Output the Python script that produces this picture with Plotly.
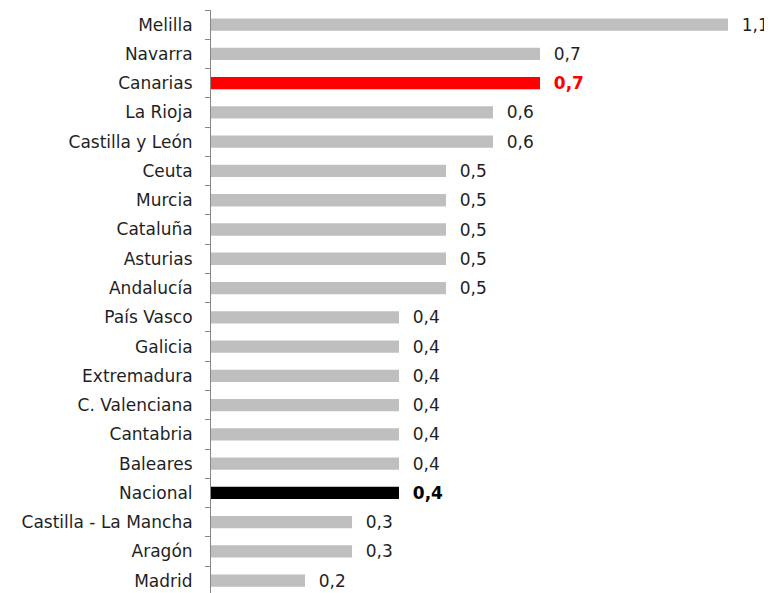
import plotly.graph_objects as go

regions = ["Melilla", "Navarra", "Canarias", "La Rioja", "Castilla y León", "Ceuta",
           "Murcia", "Cataluña", "Asturias", "Andalucía", "País Vasco", "Galicia",
           "Extremadura", "C. Valenciana", "Cantabria", "Baleares", "Nacional",
           "Castilla - La Mancha", "Aragón", "Madrid"]
values = [1.1, 0.7, 0.7, 0.6, 0.6, 0.5, 0.5, 0.5, 0.5, 0.5, 0.4, 0.4, 0.4, 0.4,
          0.4, 0.4, 0.4, 0.3, 0.3, 0.2]

FONT = "DejaVu Sans"
colors = []
text_colors = []
texts = []
for r, v in zip(regions, values):
    s = f"{v:.1f}".replace(".", ",")
    if r == "Canarias":
        colors.append("#FF0000"); text_colors.append("#FF0000"); texts.append(f"<b>{s}</b>")
    elif r == "Nacional":
        colors.append("#000000"); text_colors.append("#000000"); texts.append(f"<b>{s}</b>")
    else:
        colors.append("#BFBFBF"); text_colors.append("#1F1F1F"); texts.append(s)

fig = go.Figure(go.Bar(
    y=regions, x=values, orientation="h",
    marker=dict(color=colors, line=dict(width=0)),
    width=0.42,
    text=texts, textposition="outside",
    texttemplate="  %{text}",
    textfont=dict(color=text_colors, size=17, family=FONT),
    constraintext="none",
    cliponaxis=False,
))

# page body has an 8px default margin, so the figure is sized/offset to compensate
fig.update_layout(
    width=764, height=585,
    margin=dict(l=203, r=2, t=2, b=0, autoexpand=False),
    plot_bgcolor="white", paper_bgcolor="white",
    showlegend=False,
    font=dict(family=FONT, size=17, color="#1F1F1F"),
    xaxis=dict(range=[0, 1.1894], visible=False, showgrid=False, zeroline=False),
    yaxis=dict(
        autorange=False, range=[19.42, -0.5], automargin=False,
        showline=True, linecolor="#868686", linewidth=1,
        ticks="outside", ticklen=5, tickcolor="#868686", tickson="boundaries",
        ticklabelstandoff=14,
        showgrid=False, zeroline=False,
    ),
)

fig.write_html("out.html")
